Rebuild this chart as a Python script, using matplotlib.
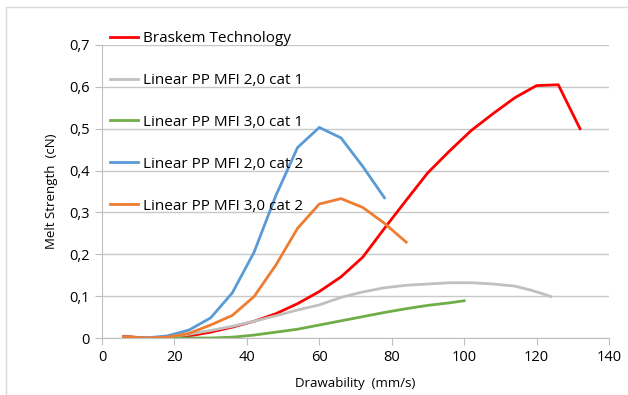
import matplotlib
matplotlib.use('Agg')
import matplotlib.pyplot as plt
from matplotlib.patches import Rectangle
from matplotlib.ticker import FuncFormatter

# data
braskem_x = [6, 12, 18, 24, 30, 36, 42, 48, 54, 60, 66, 72, 78, 84, 90, 96, 102, 108, 114, 120, 126, 132]
braskem_y = [0.004, 0.0, 0.001, 0.005, 0.014, 0.026, 0.040, 0.058, 0.082, 0.111, 0.146, 0.193, 0.262, 0.329,
             0.395, 0.447, 0.496, 0.536, 0.574, 0.603, 0.605, 0.500]

pp20_c1_x = [12, 18, 24, 30, 36, 42, 48, 54, 60, 66, 72, 78, 84, 90, 96, 102, 108, 114, 119, 124]
pp20_c1_y = [0.0, 0.002, 0.009, 0.018, 0.028, 0.040, 0.053, 0.067, 0.079, 0.097, 0.110, 0.120, 0.126, 0.129,
             0.132, 0.132, 0.129, 0.124, 0.113, 0.099]

pp30_c1_x = [12, 18, 24, 30, 36, 42, 48, 54, 60, 66, 72, 78, 84, 90, 96, 100]
pp30_c1_y = [0.0, 0.0, 0.0, 0.0, 0.002, 0.007, 0.014, 0.021, 0.031, 0.041, 0.051, 0.061, 0.070, 0.078, 0.084, 0.089]

pp20_c2_x = [6, 12, 18, 24, 30, 36, 42, 48, 54, 60, 66, 72, 78]
pp20_c2_y = [0.003, 0.0, 0.005, 0.019, 0.048, 0.108, 0.205, 0.340, 0.455, 0.503, 0.478, 0.410, 0.335]

pp30_c2_x = [6, 12, 18, 24, 30, 36, 42, 48, 54, 60, 66, 72, 78, 84]
pp30_c2_y = [0.003, 0.0, 0.002, 0.011, 0.031, 0.054, 0.099, 0.174, 0.262, 0.320, 0.333, 0.312, 0.274, 0.229]

labels = ['Braskem Technology', 'Linear PP MFI 2,0 cat 1', 'Linear PP MFI 3,0 cat 1',
          'Linear PP MFI 2,0 cat 2', 'Linear PP MFI 3,0 cat 2']
colors = ['#ff0000', '#c0c0c0', '#70ad47', '#5b9bd5', '#ed7d31']

plt.rcParams['font.family'] = ['Open Sans', 'DejaVu Sans']

fig = plt.figure(figsize=(6.28, 3.95), dpi=100)
ax = fig.add_axes([0.1624, 0.1443, 0.8073, 0.7418])

series = [(braskem_x, braskem_y), (pp20_c1_x, pp20_c1_y), (pp30_c1_x, pp30_c1_y),
          (pp20_c2_x, pp20_c2_y), (pp30_c2_x, pp30_c2_y)]
for (xs, ys), lab, c in zip(series, labels, colors):
    ax.plot(xs, ys, color=c, lw=2, label=lab, solid_joinstyle='round')

ax.set_xlim(0, 140)
ax.set_ylim(0, 0.7)
ax.set_xticks(range(0, 141, 20))
ax.set_yticks([i / 10 for i in range(8)])
ax.yaxis.set_major_formatter(FuncFormatter(lambda v, p: '0' if v == 0 else f'{v:.1f}'.replace('.', ',')))
ax.grid(axis='y', color='#c8c8c8', lw=1)
ax.set_axisbelow(True)
for s in ['top', 'right']:
    ax.spines[s].set_visible(False)
for s in ['left', 'bottom']:
    ax.spines[s].set_color('#bfbfbf')
ax.tick_params(colors='#bfbfbf', labelcolor='black', labelsize=10.5, length=5)
ax.tick_params(axis='y', pad=4)

ax.set_xlabel('Drawability  (mm/s)', fontsize=9.5, labelpad=9)
ax.set_ylabel('Melt Strength  (cN)', fontsize=9.5, labelpad=8)

ax.legend(loc='upper left', bbox_to_anchor=(-0.003, 1.079), frameon=False, fontsize=11,
          handlelength=1.85, handletextpad=0.33, labelspacing=1.76, borderaxespad=0.2)

fig.patches.append(Rectangle((6 / 628, -0.1), 1.2, 1 - 7 / 395 + 0.1, transform=fig.transFigure,
                             fill=False, edgecolor='#d9d9d9', lw=1))

fig.savefig('out.png', dpi=100)
